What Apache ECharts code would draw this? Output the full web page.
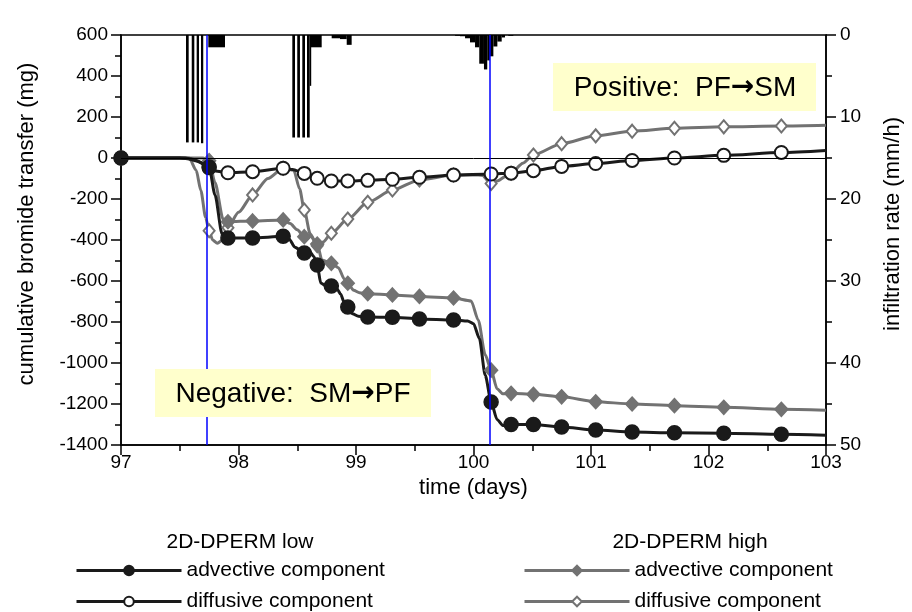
<!DOCTYPE html>
<html>
<head>
<meta charset="utf-8">
<script src="https://cdn.jsdelivr.net/npm/echarts@6/dist/echarts.min.js"></script>
<style>
  html, body { margin: 0; padding: 0; background: #fff; }
  #chart { width: 912px; height: 612px; }
</style>
</head>
<body>
<div id="chart"></div>
<script>
// model output times that get a symbol
const outputDays = [97, 97.75, 97.91, 98.12, 98.38, 98.56, 98.67, 98.79, 98.93, 99.10, 99.31,
  99.54, 99.83, 100.15, 100.32, 100.51, 100.75, 101.04, 101.35, 101.71, 102.13, 102.62];

// cumulative bromide transfer (mg), [day, value]
const lowAdvective = [[97, 0], [97.5, 0], [97.6, -5], [97.7, -25], [97.75, -44], [97.8, -180],
  [97.86, -370], [97.91, -390], [98.12, -390], [98.38, -382], [98.43, -395], [98.48, -435],
  [98.56, -463], [98.61, -458], [98.64, -480], [98.67, -522], [98.70, -610], [98.74, -622],
  [98.79, -624], [98.84, -640], [98.87, -665], [98.90, -705], [98.93, -727], [98.97, -760],
  [99.02, -772], [99.10, -776], [99.31, -777], [99.54, -785], [99.83, -790], [99.95, -795],
  [100.0, -808], [100.05, -880], [100.1, -1060], [100.15, -1190], [100.2, -1275], [100.25, -1305],
  [100.32, -1300], [100.51, -1300], [100.75, -1312], [101.04, -1327], [101.35, -1337],
  [101.71, -1340], [102.13, -1343], [102.62, -1348], [103, -1352]];

const lowDiffusive = [[97, 0], [97.55, 0], [97.65, -15], [97.75, -48], [97.82, -65], [97.91, -72],
  [98.12, -67], [98.38, -50], [98.46, -56], [98.56, -75], [98.67, -99], [98.79, -112],
  [98.93, -112], [99.10, -109], [99.31, -104], [99.54, -94], [99.83, -83], [100.15, -78],
  [100.32, -74], [100.51, -62], [100.75, -41], [101.04, -27], [101.35, -12], [101.71, 0],
  [102.13, 13], [102.62, 27], [103, 37]];

const highAdvective = [[97, 0], [97.7, 0], [97.75, -13], [97.8, -120], [97.87, -300], [97.91, -311],
  [98.12, -307], [98.38, -302], [98.44, -320], [98.5, -350], [98.56, -384], [98.61, -378],
  [98.67, -420], [98.71, -498], [98.79, -514], [98.85, -535], [98.9, -590], [98.93, -611],
  [98.98, -645], [99.03, -657], [99.10, -662], [99.31, -668], [99.54, -675], [99.83, -683],
  [99.98, -697], [100.04, -790], [100.1, -960], [100.15, -1035], [100.2, -1125], [100.25, -1150],
  [100.32, -1148], [100.51, -1153], [100.75, -1165], [101.04, -1189], [101.35, -1200],
  [101.71, -1208], [102.13, -1216], [102.62, -1226], [103, -1230]];

const highDiffusive = [[97, 0], [97.58, 0], [97.64, -60], [97.68, -160], [97.72, -290], [97.75, -355],
  [97.78, -400], [97.82, -416], [97.87, -398], [97.91, -340], [98.0, -265], [98.12, -180],
  [98.25, -100], [98.38, -50], [98.47, -60], [98.52, -150], [98.56, -254], [98.61, -370],
  [98.67, -428], [98.72, -410], [98.79, -367], [98.93, -298], [99.10, -216], [99.31, -156],
  [99.54, -107], [99.83, -83], [100.0, -82], [100.08, -85], [100.12, -110], [100.15, -124],
  [100.2, -112], [100.32, -74], [100.42, -25], [100.51, 15], [100.75, 70], [101.04, 108],
  [101.35, 131], [101.71, 145], [102.13, 152], [102.62, 156], [103, 160]];

// infiltration rate (mm/h) per interval
const rainFrom = [97.553, 97.602, 97.644, 97.681, 97.743, 98.458, 98.500, 98.543, 98.583, 98.606,
  98.609, 98.793, 98.864, 98.921, 99.843, 99.885, 99.928, 99.970, 100.013, 100.049, 100.089,
  100.117, 100.140, 100.169, 100.203, 100.240, 100.296];
const rainTo = [97.576, 97.624, 97.664, 97.700, 97.885, 98.481, 98.523, 98.566, 98.606, 98.613,
  98.708, 98.864, 98.921, 98.963, 99.885, 99.928, 99.970, 100.013, 100.049, 100.089, 100.117,
  100.140, 100.169, 100.203, 100.240, 100.268, 100.339];
const rainRate = [13.1, 13.1, 13.1, 13.2, 1.5, 12.5, 12.5, 12.5, 12.5, 6.2,
  1.5, 0.4, 0.5, 1.2, 0.1, 0.15, 0.4, 0.9, 1.5, 3.5, 4.2,
  3.1, 2.6, 1.4, 0.8, 0.3, 0.1];

// ticks and reference times
const xTicks = { min: 97, max: 103, step: 1 };
const yTicks = { min: -1400, max: 600, step: 200 };
const rainTicks = { min: 0, max: 50, step: 10 };
const eventDays = [97.73, 100.135];

const FONT = "'Liberation Sans', Arial, sans-serif";
const BLACK = '#1a1a1a';
const GREY = '#727272';

const chart = echarts.init(document.getElementById('chart'));

// only output times carry a symbol
function withSymbols(points) {
  return points.map(p => outputDays.includes(p[0]) ? { value: p } : { value: p, symbol: 'none' });
}

function curve(name, points, color, symbol, size) {
  return {
    name: name,
    type: 'line',
    data: withSymbols(points),
    symbol: symbol,
    symbolSize: size,
    smooth: 0.25,
    smoothMonotone: 'x',
    lineStyle: { color: color, width: 3 },
    itemStyle: { color: color, borderColor: color, borderWidth: 1.5 },
    z: 3
  };
}

// one legend row per series
function legendRow(name, left, top) {
  return {
    left: left, top: top, padding: 0,
    itemWidth: 105, itemHeight: 12, itemGap: 8,
    data: [name],
    lineStyle: { width: 3 },
    formatter: n => n.endsWith('adv') ? 'advective component' : 'diffusive component',
    textStyle: { fontSize: 21, color: '#000', fontFamily: FONT }
  };
}

// box text with a larger arrow glyph
function noteBox(parts, x, y) {
  return {
    type: 'text', z: 101,
    style: {
      text: '{t|' + parts[0] + '}{a|\u2192}{t|' + parts[1] + '}',
      x: x, y: y, align: 'center', verticalAlign: 'middle',
      rich: {
        t: { fontSize: 28, fontFamily: FONT, fill: '#000' },
        a: { fontSize: 28, fontFamily: "'DejaVu Sans'", fill: '#000', fontWeight: 'bold' }
      }
    }
  };
}

const axisLine = { show: true, lineStyle: { color: '#000', width: 1.5 } };
const tickStyle = { lineStyle: { color: '#000', width: 1.5 } };
const nameStyle = { fontSize: 22, color: '#000', fontFamily: FONT };
// vertical names sit a little above the plot centre
const sideNameStyle = Object.assign({ padding: [0, 0, 0, 32] }, nameStyle);
const labelStyle = { fontSize: 19, color: '#000', fontFamily: FONT, formatter: v => String(v) };

const option = {
  animation: false,
  backgroundColor: '#fff',
  textStyle: { fontFamily: FONT },
  grid: { left: 121, right: 86, top: 35, bottom: 167, show: true, borderColor: '#000', borderWidth: 1.5 },
  xAxis: {
    type: 'value',
    min: xTicks.min, max: xTicks.max, interval: xTicks.step,
    name: 'time (days)', nameLocation: 'middle', nameGap: 24,
    nameTextStyle: nameStyle,
    axisLine: Object.assign({ onZero: false }, axisLine),
    axisTick: Object.assign({ length: 10 }, tickStyle),
    minorTick: Object.assign({ show: true, splitNumber: 2, length: 6 }, tickStyle),
    axisLabel: Object.assign({ margin: 8 }, labelStyle),
    splitLine: { show: false }
  },
  yAxis: [{
    type: 'value',
    min: yTicks.min, max: yTicks.max, interval: yTicks.step,
    name: 'cumulative bromide transfer (mg)', nameLocation: 'middle', nameGap: 83,
    nameTextStyle: sideNameStyle,
    axisLine: Object.assign({ onZero: false }, axisLine),
    axisTick: Object.assign({ length: 10 }, tickStyle),
    minorTick: Object.assign({ show: true, splitNumber: 2, length: 6 }, tickStyle),
    axisLabel: Object.assign({ margin: 13 }, labelStyle),
    splitLine: { show: false }
  }, {
    type: 'value',
    position: 'right',
    inverse: true,
    min: rainTicks.min, max: rainTicks.max, interval: rainTicks.step,
    name: 'infiltration rate (mm/h)', nameLocation: 'middle', nameGap: 56,
    nameTextStyle: sideNameStyle,
    axisLine: axisLine,
    axisTick: Object.assign({ length: 10 }, tickStyle),
    minorTick: Object.assign({ show: true, splitNumber: 2, length: 6 }, tickStyle),
    axisLabel: Object.assign({ margin: 14 }, labelStyle),
    splitLine: { show: false }
  }],
  legend: [
    legendRow('low-adv', 75, 560),
    legendRow('low-diff', 75, 591),
    legendRow('high-adv', 523, 560),
    legendRow('high-diff', 523, 591)
  ],
  graphic: [
    { type: 'text', z: 100, style: { text: '2D-DPERM low', x: 240, y: 542, align: 'center', verticalAlign: 'middle', fontSize: 21, fontFamily: FONT, fill: '#000' } },
    { type: 'text', z: 100, style: { text: '2D-DPERM high', x: 690, y: 542, align: 'center', verticalAlign: 'middle', fontSize: 21, fontFamily: FONT, fill: '#000' } },
    { type: 'rect', z: 100, shape: { x: 553, y: 63, width: 263, height: 48 }, style: { fill: '#ffffcc' } },
    noteBox(['Positive:  PF', 'SM'], 685, 88),
    { type: 'rect', z: 100, shape: { x: 155, y: 369, width: 276, height: 48 }, style: { fill: '#ffffcc' } },
    noteBox(['Negative:  SM', 'PF'], 293, 394)
  ],
  series: [
    {
      name: 'infiltration',
      type: 'custom',
      yAxisIndex: 1,
      clip: true,
      data: rainFrom.map((d, i) => [d, rainTo[i], rainRate[i]]),
      encode: { x: [0, 1], y: 2 },
      renderItem: (params, api) => {
        const a = api.coord([api.value(0), 0]);
        const b = api.coord([api.value(1), api.value(2)]);
        return {
          type: 'rect',
          shape: { x: a[0], y: a[1], width: Math.max(b[0] - a[0], 1.5), height: b[1] - a[1] },
          style: { fill: '#000' }
        };
      },
      z: 2
    },
    {
      name: 'ref',
      type: 'line',
      data: [],
      markLine: {
        silent: true, symbol: 'none', label: { show: false },
        data: [
          { yAxis: 0, lineStyle: { color: '#000', width: 1, type: 'solid' } },
          ...eventDays.map(d => ({ xAxis: d, lineStyle: { color: '#0000ff', width: 1.5, type: 'solid' } }))
        ]
      },
      z: 1
    },
    curve('high-diff', highDiffusive, GREY, 'emptyDiamond', [11, 13]),
    curve('high-adv', highAdvective, GREY, 'diamond', [13, 14]),
    curve('low-diff', lowDiffusive, BLACK, 'emptyCircle', 13),
    curve('low-adv', lowAdvective, BLACK, 'circle', 14)
  ]
};

option && chart.setOption(option);
</script>
</body>
</html>
